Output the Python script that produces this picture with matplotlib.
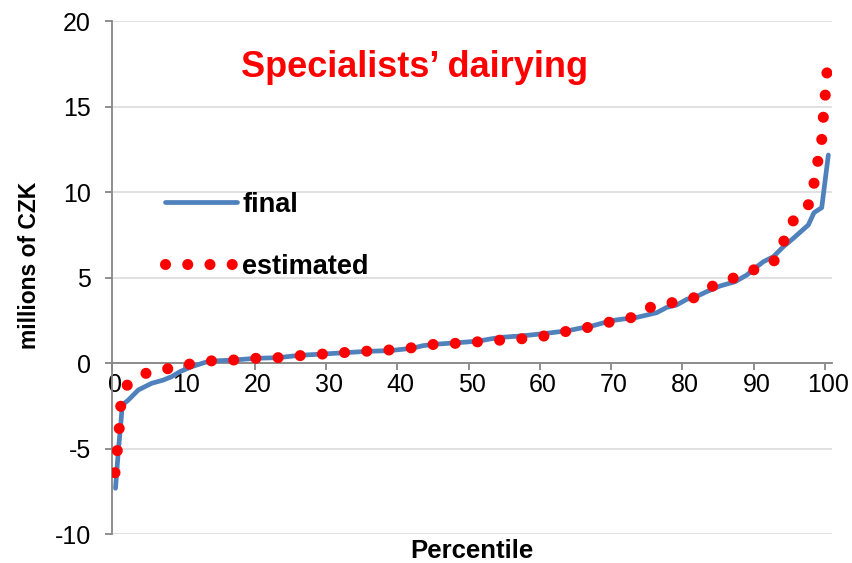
import matplotlib
matplotlib.use('Agg')
import matplotlib.pyplot as plt
from matplotlib.transforms import ScaledTranslation

plt.rcParams['font.family'] = ['Liberation Sans', 'DejaVu Sans']
plt.rcParams['axes.unicode_minus'] = False

# ---- data ----
final_pct = [0.45, 0.84, 1.22, 1.40, 2.25, 3.65, 5.53, 7.16, 8.34, 9.5, 11.14, 13.0,
             13.85, 16.98, 20.13, 23.26, 26.39, 29.53, 32.66, 35.79, 38.95, 42.1, 43.6,
             45.19, 48.34, 51.47, 53.0, 54.65, 57.68, 60.87, 64.0, 65.64, 67.05, 70.0,
             71.72, 73.04, 75.0, 76.41, 77.81, 79.21, 80.62, 81.92, 83.42, 85.29, 87.4,
             89.04, 90.2, 91.37, 92.77, 94.18, 95.58, 97.68, 98.48, 99.56, 100.49]
final_val = [-7.31, -5.17, -3.41, -2.44, -2.15, -1.56, -1.17, -0.98, -0.78, -0.49, -0.20, 0.05,
             0.13, 0.19, 0.29, 0.33, 0.47, 0.54, 0.62, 0.70, 0.74, 0.88, 1.03,
             1.11, 1.20, 1.30, 1.42, 1.52, 1.61, 1.75, 1.91, 2.05, 2.15, 2.49,
             2.59, 2.63, 2.82, 2.96, 3.27, 3.41, 3.74, 3.89, 4.19, 4.52, 4.77,
             5.16, 5.56, 5.94, 6.23, 6.82, 7.31, 8.09, 8.81, 9.10, 12.18]

est_pct = [0.38, 0.70, 0.98, 1.18, 2.02, 4.59, 7.64, 10.67, 13.85, 16.98, 20.13, 23.26,
           26.39, 29.53, 32.66, 35.79, 38.95, 42.1, 45.19, 48.34, 51.47, 54.65, 57.68,
           60.87, 64.0, 67.05, 70.0, 73.04, 75.85, 78.88, 81.92, 84.49, 87.4, 90.3,
           93.01, 94.32, 95.62, 97.68, 98.48, 99.0, 99.56, 99.79, 100.07, 100.33]
est_val = [-6.40, -5.10, -3.78, -2.52, -1.30, -0.60, -0.33, -0.06, 0.14, 0.19, 0.29, 0.33,
           0.45, 0.54, 0.63, 0.71, 0.78, 0.91, 1.11, 1.17, 1.26, 1.36, 1.44,
           1.61, 1.89, 2.12, 2.43, 2.69, 3.35, 3.57, 3.86, 4.58, 5.02, 5.51,
           6.02, 7.21, 8.38, 9.26, 10.53, 11.79, 13.06, 14.42, 15.75, 17.20]

series_labels = ['final', 'estimated']
x_ticks = [0, 10, 20, 30, 40, 50, 60, 70, 80, 90, 100]
y_ticks = [-10, -5, 0, 5, 10, 15, 20]
title_text = 'Specialists\u2019 dairying'
x_label = 'Percentile'
y_label = 'millions of CZK'

# ---- figure ----
fig = plt.figure(figsize=(8.52, 5.63), dpi=100)
ax = fig.add_axes([0.1318, 0.0510, 0.8447, 0.9112])

ax.plot(final_pct, final_val, color='#4F81BD', lw=3.4, solid_capstyle='round',
        solid_joinstyle='round', label=series_labels[0], zorder=3)
ax.plot(est_pct, est_val, color='#FF0000', lw=8, linestyle=(0, (0.001, 2.0)),
        dash_capstyle='round', label=series_labels[1], zorder=4)

ax.set_xlim(0, 101)
ax.set_ylim(-10, 20)
ax.set_xticks(x_ticks)
ax.set_yticks(y_ticks)

for s in ['top', 'right']:
    ax.spines[s].set_visible(False)
ax.spines['bottom'].set_position(('data', 0))
for s in ['left', 'bottom']:
    ax.spines[s].set_color('#868686')
    ax.spines[s].set_linewidth(1.3)
    ax.spines[s].set_zorder(2)

ax.grid(axis='y', color='#D9D9D9', lw=1.1)
ax.set_axisbelow(True)

ax.tick_params(axis='both', colors='#868686', labelcolor='black', direction='out',
               length=5, width=1.3, labelsize=18)
ax.tick_params(axis='y', pad=10.5)
ax.tick_params(axis='x', pad=2)

offset = ScaledTranslation(3 / 100, 0, fig.dpi_scale_trans)
for lab in ax.get_xticklabels():
    lab.set_transform(lab.get_transform() + offset)

leg = ax.legend(loc='upper left', bbox_to_anchor=(0.0732, 0.668), frameon=False,
                borderaxespad=0, borderpad=0, handlelength=2.65, handletextpad=0.2,
                labelspacing=1.33, prop={'size': 19.5, 'weight': 'bold'})

fig.text(414.8 / 852, 1 - 77 / 563, title_text, color='#FF0000', fontsize=26,
         fontweight='bold', ha='center', va='baseline')
fig.text(472 / 852, 1 - 551 / 563, x_label, fontsize=18.5, fontweight='bold',
         ha='center', va='center')
fig.text(30 / 852, 1 - 265 / 563, y_label, fontsize=16.5, fontweight='bold',
         ha='center', va='center', rotation=90)

fig.savefig('out.png', dpi=100)
